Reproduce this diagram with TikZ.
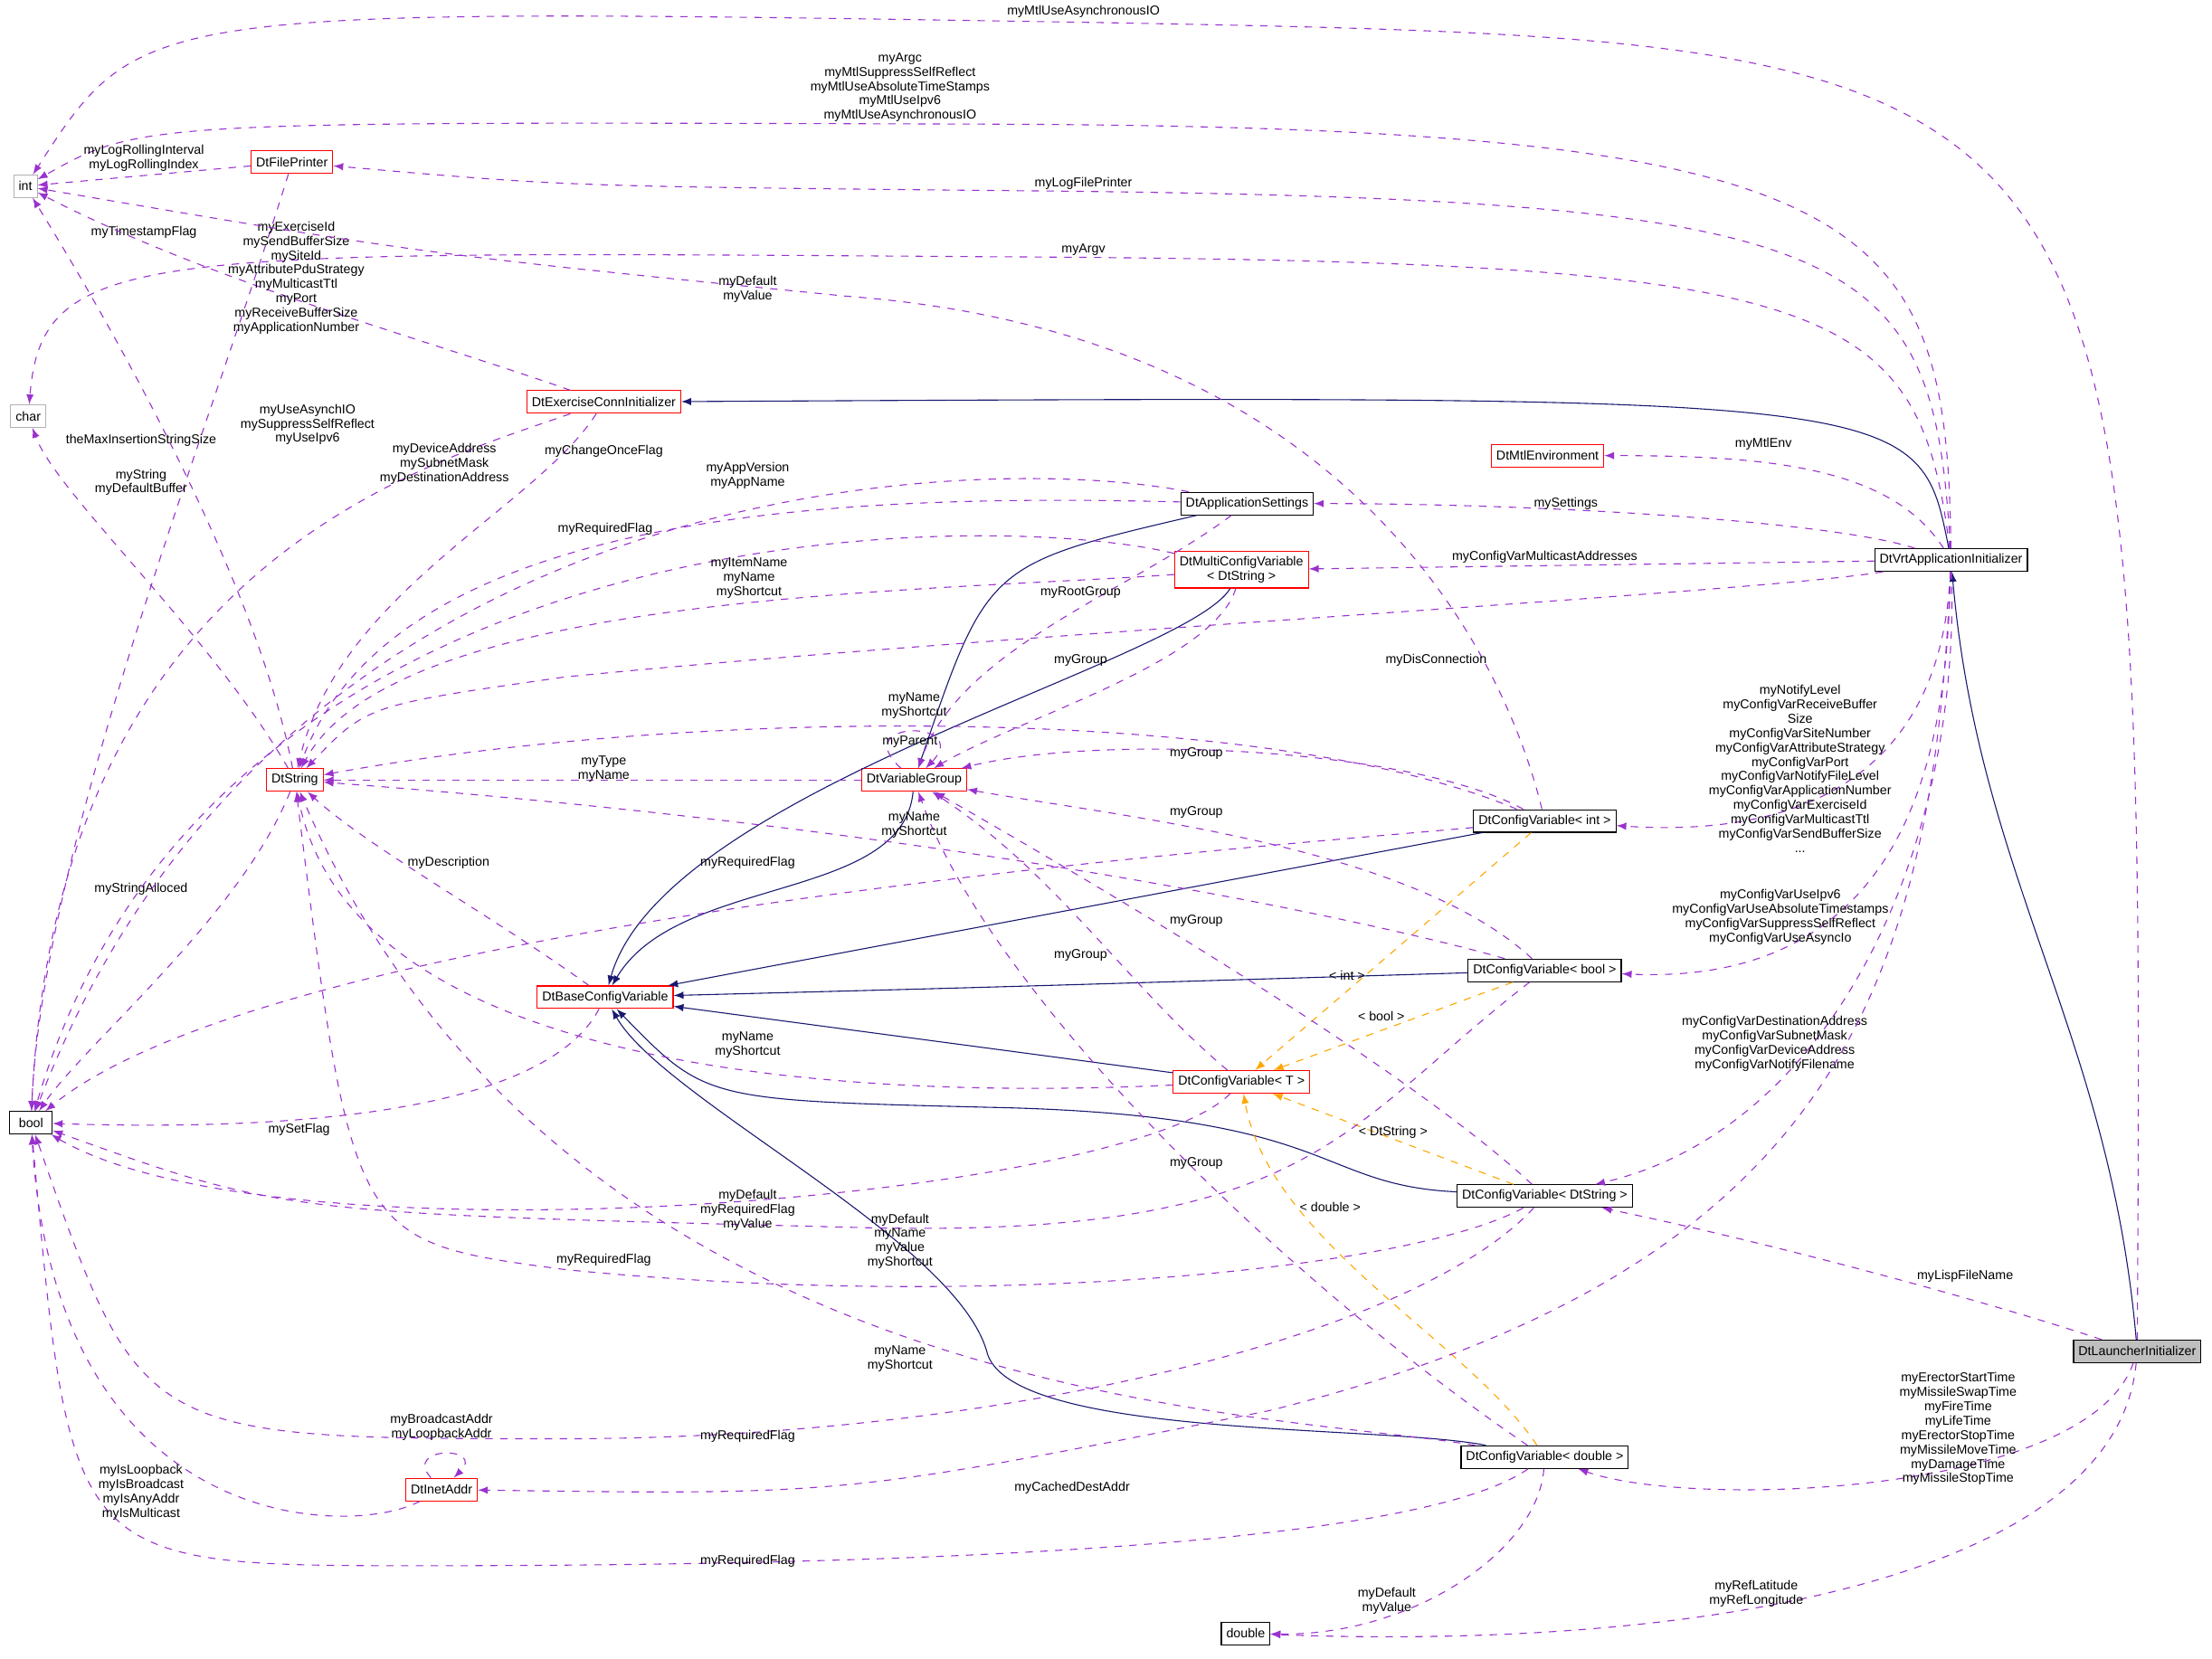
\documentclass[tikz,border=0pt]{standalone}
\usepackage{fontspec}
\setmainfont{Liberation Sans}
\usetikzlibrary{positioning}
\tikzset{% change default arrow tips
    >=latex
}
\definecolor{usecol}{RGB}{154,50,205}
\definecolor{inhcol}{RGB}{25,25,112}
\definecolor{tplcol}{RGB}{255,165,0}
\begin{document}
\begin{tikzpicture}[x=0.02cm,y=-0.02cm,font=\fontsize{5.2}{5.8}\selectfont,
    cls/.style={draw=black,fill=white,inner sep=2pt,minimum height=0.32cm,align=center},
    red/.style={cls,draw=red},
    ext/.style={cls,draw=gray!60},
    use/.style={->,dashed,usecol,thin},
    inh/.style={->,inhcol,thin},
    tpl/.style={->,dashed,tplcol,thin},
    lbl/.style={align=center,inner sep=0pt}]
    \useasboundingbox (0,0) rectangle (1568,1176);

    % classes
    \node[ext] (int) at (18,132) {int};
    \node[ext] (char) at (20,295) {char};
    \node[cls,minimum width=0.6cm] (bool) at (22,796) {bool};
    \node[red] (printer) at (207,115) {DtFilePrinter};
    \node[red] (exconn) at (428,285) {DtExerciseConnInitializer};
    \node[red] (mtlenv) at (1097,323) {DtMtlEnvironment};
    \node[cls] (appset) at (884,357) {DtApplicationSettings};
    \node[red] (multi) at (880,404) {DtMultiConfigVariable\\< DtString >};
    \node[cls] (vrt) at (1383,397) {DtVrtApplicationInitializer};
    \node[red] (dtstring) at (209,553) {DtString};
    \node[red] (vgroup) at (648,553) {DtVariableGroup};
    \node[cls] (cvint) at (1095,582) {DtConfigVariable< int >};
    \node[cls] (cvbool) at (1095,688) {DtConfigVariable< bool >};
    \node[red] (baseconf) at (429,707) {DtBaseConfigVariable};
    \node[red] (cvt) at (880,767) {DtConfigVariable< T >};
    \node[cls] (cvstr) at (1095,848) {DtConfigVariable< DtString >};
    \node[cls,fill=gray!50] (launch) at (1515,958) {DtLauncherInitializer};
    \node[cls] (cvdbl) at (1095,1033) {DtConfigVariable< double >};
    \node[red] (inet) at (313,1056) {DtInetAddr};
    \node[cls] (double) at (883,1158) {double};

    % inheritance
    \draw[inh] (launch) to[out=95,in=-85] (vrt);
    \draw[inh] (vrt) .. controls (1360,280) .. (exconn);
    \draw[inh] (appset) .. controls (700,400) .. (vgroup);
    \draw[inh] (multi) .. controls (840,470) and (470,560) .. (baseconf);
    \draw[inh] (vgroup) .. controls (640,640) and (480,620) .. (baseconf);
    \draw[inh] (cvint) -- (baseconf);
    \draw[inh] (cvbool) .. controls (700,700) .. (baseconf);
    \draw[inh] (cvt) -- (baseconf);
    \draw[inh] (cvstr) .. controls (930,840) and (950,790) .. (700,785) .. controls (500,780) .. (baseconf);
    \draw[inh] (cvdbl) .. controls (980,1010) and (720,1020) .. (700,960) .. controls (680,880) and (470,780) .. (baseconf);

    % template instances
    \draw[tpl] (cvint) -- (cvt) node[pos=.6,lbl,black,left] {< int >};
    \draw[tpl] (cvbool) -- (cvt) node[pos=.45,lbl,black,above left] {< bool >};
    \draw[tpl] (cvstr) -- (cvt) node[pos=.5,lbl,black,above] {< DtString >};
    \draw[tpl] (cvdbl) .. controls (1040,950) and (900,880) .. (cvt) node[pos=.72,lbl,black,right] {< double >};

    % usage
    \draw[use] (launch) .. controls (1520,30) .. (780,16) .. controls (100,5) .. (int);
    \node[lbl] (l1) at (768,8) {myMtlUseAsynchronousIO};
    \draw[use] (vrt) .. controls (1380,150) and (1330,90) .. (700,88) .. controls (100,86) .. (int);
    \node[lbl] (l2) at (638,62) {myArgc\\myMtlSuppressSelfReflect\\myMtlUseAbsoluteTimeStamps\\myMtlUseIpv6\\myMtlUseAsynchronousIO};
    \draw[use] (vrt) .. controls (1370,170) and (1320,140) .. (700,135) .. controls (400,132) .. (printer);
    \node[lbl] (l3) at (768,130) {myLogFilePrinter};
    \draw[use] (printer) -- (int);
    \node[lbl] (l4) at (102,112) {myLogRollingInterval\\myLogRollingIndex};
    \draw[use] (vrt) .. controls (1360,210) and (1300,185) .. (700,182) .. controls (100,178) and (30,175) .. (char);
    \node[lbl] (l5) at (768,177) {myArgv};
    \draw[use] (printer) .. controls (150,300) and (30,600) .. (bool);
    \node[lbl] (l6) at (102,165) {myTimestampFlag};
    \draw[use] (exconn) .. controls (300,240) and (150,200) .. (int);
    \node[lbl] (l7) at (210,197) {myExerciseId\\mySendBufferSize\\mySiteId\\myAttributePduStrategy\\myMulticastTtl\\myPort\\myReceiveBufferSize\\myApplicationNumber};
    \draw[use] (cvint) .. controls (1080,520) and (1000,240) .. (600,210) .. controls (300,180) .. (int);
    \node[lbl] (l8) at (530,205) {myDefault\\myValue};
    \draw[use] (exconn) .. controls (300,330) and (40,400) .. (bool);
    \node[lbl] (l9) at (218,301) {myUseAsynchIO\\mySuppressSelfReflect\\myUseIpv6};
    \draw[use] (exconn) .. controls (380,360) and (240,420) .. (dtstring);
    \node[lbl] (l10) at (315,329) {myDeviceAddress\\mySubnetMask\\myDestinationAddress};
    \draw[use] (dtstring) .. controls (180,400) and (60,200) .. (int);
    \node[lbl] (l11) at (100,312) {theMaxInsertionStringSize};
    \draw[use] (dtstring) .. controls (150,450) and (40,350) .. (char);
    \node[lbl] (l12) at (100,342) {myString\\myDefaultBuffer};
    \draw[use] (dtstring) .. controls (170,650) and (60,740) .. (bool);
    \node[lbl] (l13) at (100,630) {myStringAlloced};
    \draw[use] (appset) .. controls (700,320) and (200,330) .. (bool);
    \node[lbl] (l14) at (428,320) {myChangeOnceFlag};
    \draw[use] (appset) .. controls (600,350) and (280,360) .. (dtstring);
    \node[lbl] (l15) at (530,337) {myAppVersion\\myAppName};
    \draw[use] (multi) .. controls (700,360) and (150,360) .. (bool);
    \node[lbl] (l16) at (429,375) {myRequiredFlag};
    \draw[use] (multi) .. controls (650,420) and (280,420) .. (dtstring);
    \node[lbl] (l17) at (531,410) {myItemName\\myName\\myShortcut};
    \draw[use] (appset) .. controls (800,420) and (680,460) .. (vgroup);
    \node[lbl] (l18) at (766,420) {myRootGroup};
    \draw[use] (multi) .. controls (860,470) and (720,510) .. (vgroup);
    \node[lbl] (l19) at (766,468) {myGroup};
    \draw[use] (vrt) .. controls (1250,420) and (700,450) .. (400,480) .. controls (260,500) .. (dtstring);
    \node[lbl] (l20) at (1018,468) {myDisConnection};
    \draw[use] (cvint) .. controls (900,500) and (500,500) .. (dtstring);
    \node[lbl] (l20b) at (648,500) {myName\\myShortcut};
    \draw[use] (vgroup) .. controls (600,510) and (690,510) .. (vgroup);
    \node[lbl] (l21) at (645,526) {myParent};
    \draw[use] (vgroup) -- (dtstring);
    \node[lbl] (l22) at (428,545) {myType\\myName};
    \draw[use] (vrt) .. controls (1340,330) and (1250,323) .. (mtlenv);
    \node[lbl] (l23) at (1250,315) {myMtlEnv};
    \draw[use] (vrt) .. controls (1300,370) and (1100,357) .. (appset);
    \node[lbl] (l24) at (1110,357) {mySettings};
    \draw[use] (vrt) -- (multi);
    \node[lbl] (l25) at (1095,395) {myConfigVarMulticastAddresses};
    \draw[use] (vrt) .. controls (1380,450) and (1370,600) .. (cvint);
    \node[lbl] (l26) at (1276,545) {myNotifyLevel\\myConfigVarReceiveBuffer\\Size\\myConfigVarSiteNumber\\myConfigVarAttributeStrategy\\myConfigVarPort\\myConfigVarNotifyFileLevel\\myConfigVarApplicationNumber\\myConfigVarExerciseId\\myConfigVarMulticastTtl\\myConfigVarSendBufferSize\\...};
    \draw[use] (vrt) .. controls (1380,500) and (1370,700) .. (cvbool);
    \node[lbl] (l27) at (1262,650) {myConfigVarUseIpv6\\myConfigVarUseAbsoluteTimestamps\\myConfigVarSuppressSelfReflect\\myConfigVarUseAsyncIo};
    \draw[use] (vrt) .. controls (1390,600) and (1300,800) .. (cvstr);
    \node[lbl] (l28) at (1258,740) {myConfigVarDestinationAddress\\myConfigVarSubnetMask\\myConfigVarDeviceAddress\\myConfigVarNotifyFilename};
    \draw[use] (vrt) .. controls (1370,700) and (1300,900) .. (900,1000) .. controls (600,1060) .. (inet);
    \node[lbl] (l29) at (760,1055) {myCachedDestAddr};
    \draw[use] (launch) .. controls (1400,920) and (1250,880) .. (cvstr);
    \node[lbl] (l30) at (1393,905) {myLispFileName};
    \draw[use] (launch) .. controls (1480,1060) and (1200,1070) .. (cvdbl);
    \node[lbl] (l31) at (1388,1013) {myErectorStartTime\\myMissileSwapTime\\myFireTime\\myLifeTime\\myErectorStopTime\\myMissileMoveTime\\myDamageTime\\myMissileStopTime};
    \draw[use] (launch) .. controls (1500,1120) and (1200,1170) .. (double);
    \node[lbl] (l32) at (1245,1130) {myRefLatitude\\myRefLongitude};
    \draw[use] (cvint) .. controls (1000,530) and (780,520) .. (vgroup);
    \node[lbl] (l33) at (848,534) {myGroup};
    \draw[use] (cvbool) .. controls (1000,600) and (800,580) .. (vgroup);
    \node[lbl] (l34) at (848,576) {myGroup};
    \draw[use] (cvt) .. controls (800,700) and (750,620) .. (vgroup);
    \node[lbl] (l35) at (766,677) {myGroup};
    \draw[use] (cvstr) .. controls (1000,760) and (800,640) .. (vgroup);
    \node[lbl] (l36) at (848,653) {myGroup};
    \draw[use] (cvdbl) .. controls (900,900) and (700,700) .. (vgroup);
    \node[lbl] (l37) at (848,825) {myGroup};
    \draw[use] (cvint) .. controls (900,600) and (200,650) .. (bool);
    \node[lbl] (l38) at (530,612) {myRequiredFlag};
    \draw[use] (baseconf) .. controls (350,650) and (260,600) .. (dtstring);
    \node[lbl] (l39) at (318,612) {myDescription};
    \draw[use] (cvbool) .. controls (1000,660) and (700,590) .. (dtstring);
    \node[lbl] (l40) at (648,585) {myName\\myShortcut};
    \draw[use] (cvt) .. controls (600,780) and (250,760) .. (dtstring);
    \node[lbl] (l41) at (530,741) {myName\\myShortcut};
    \draw[use] (baseconf) .. controls (380,800) and (150,800) .. (bool);
    \node[lbl] (l42) at (212,801) {mySetFlag};
    \draw[use] (cvbool) .. controls (950,800) and (930,880) .. (600,870) .. controls (200,860) .. (bool);
    \node[lbl] (l43) at (530,858) {myDefault\\myRequiredFlag\\myValue};
    \draw[use] (cvstr) .. controls (1000,900) and (700,930) .. (400,900) .. controls (250,880) .. (dtstring);
    \node[lbl] (l44) at (638,880) {myDefault\\myName\\myValue\\myShortcut};
    \draw[use] (cvt) .. controls (800,850) and (200,900) .. (bool);
    \node[lbl] (l45) at (428,893) {myRequiredFlag};
    \draw[use] (cvdbl) .. controls (900,1000) and (400,1000) .. (dtstring);
    \node[lbl] (l46) at (638,963) {myName\\myShortcut};
    \draw[use] (cvstr) .. controls (1000,950) and (700,1020) .. (400,1020) .. controls (100,1020) .. (bool);
    \node[lbl] (l47) at (530,1018) {myRequiredFlag};
    \draw[use] (cvdbl) .. controls (1000,1100) and (600,1110) .. (300,1110) .. controls (50,1110) .. (bool);
    \node[lbl] (l48) at (530,1107) {myRequiredFlag};
    \draw[use] (inet) .. controls (250,1090) and (40,1090) .. (bool);
    \node[lbl] (l49) at (100,1058) {myIsLoopback\\myIsBroadcast\\myIsAnyAddr\\myIsMulticast};
    \draw[use] (inet) .. controls (285,1025) and (345,1025) .. (inet);
    \node[lbl] (l50) at (313,1012) {myBroadcastAddr\\myLoopbackAddr};
    \draw[use] (cvdbl) .. controls (1090,1100) and (1000,1160) .. (double);
    \node[lbl] (l51) at (983,1135) {myDefault\\myValue};
\end{tikzpicture}
\end{document}
